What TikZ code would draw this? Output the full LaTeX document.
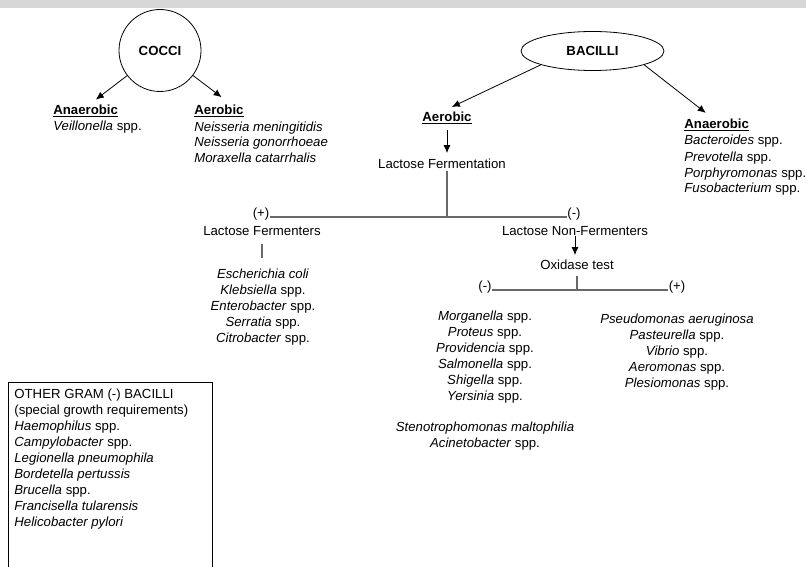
\documentclass[tikz,border=0pt]{standalone}
\usepackage{fontspec}
\setmainfont{Liberation Sans}
\usetikzlibrary{arrows.meta,shapes.geometric,positioning}
\definecolor{linegray}{RGB}{105,105,105}
\definecolor{bandgray}{RGB}{215,215,215}

\begin{document}
\begin{tikzpicture}[x=1pt, y=-1pt, >={Latex[length=8pt,width=7pt]}, line width=0.8pt,
   every node/.style={font=\fontsize{13.2}{16}\selectfont, inner sep=0pt},
   group/.style={draw, font=\fontsize{13.2}{16}\selectfont\bfseries},
   head/.style={anchor=base west},
   spp/.style={align=left},
   cspp/.style={align=center, anchor=base},
   branch/.style={draw=linegray, line width=1.3pt}]
   \useasboundingbox (0,0) rectangle (806,567);
   \fill[bandgray] (0,0) rectangle (806,8);

   % the two groups
   \node[group, circle, minimum size=82pt]                        (cocci)   at (160,50.5) {COCCI};
   \node[group, ellipse, minimum width=143pt, minimum height=39pt] (bacilli) at (592.5,51) {BACILLI};

   % cocci (a list node sits on the baseline of its last line)
   \node[head] (cana)  at (53,115)  {\underline{\textbf{Anaerobic}}};
   \node[spp, below=16pt of cana.base west, anchor=base west]  (canalist)  {\textit{Veillonella} spp.};
   \node[head] (caero) at (194,115) {\underline{\textbf{Aerobic}}};
   \node[spp, below=48pt of caero.base west, anchor=base west] (caerolist) {\textit{Neisseria meningitidis}\\
      \textit{Neisseria gonorrhoeae}\\ \textit{Moraxella catarrhalis}};

   % bacilli
   \node[anchor=base] (bacaero) at (447,122) {\underline{\textbf{Aerobic}}};
   \node[anchor=base] (lferm)   at (442,168) {Lactose Fermentation};
   \node[head]        (bana)    at (684,129) {\underline{\textbf{Anaerobic}}};
   \node[spp, below=64pt of bana.base west, anchor=base west] (banalist) {\textit{Bacteroides} spp.\\
      \textit{Prevotella} spp.\\ \textit{Porphyromonas} spp.\\ \textit{Fusobacterium} spp.};

   % lactose
   \node[anchor=base] (pls)  at (261,217) {(+)};
   \node[anchor=base] (lfer) at (262,235) {Lactose Fermenters};
   \node[anchor=base] (mns)  at (574,217) {(-)};
   \node[anchor=base] (lnf)  at (575,235) {Lactose Non-Fermenters};
   \node[cspp] (lflist) at (263,342) {\textit{Escherichia coli}\\ \textit{Klebsiella} spp.\\
      \textit{Enterobacter} spp.\\ \textit{Serratia} spp.\\ \textit{Citrobacter} spp.};

   % oxidase
   \node[anchor=base] (oxid) at (577,269) {Oxidase test};
   \node[anchor=base] (omin) at (485,290) {(-)};
   \node[anchor=base] (opls) at (677,290) {(+)};
   \node[cspp] (onlist)  at (485,400) {\textit{Morganella} spp.\\ \textit{Proteus} spp.\\
      \textit{Providencia} spp.\\ \textit{Salmonella} spp.\\ \textit{Shigella} spp.\\ \textit{Yersinia} spp.};
   \node[cspp] (onlist2) at (485,447) {\textit{Stenotrophomonas maltophilia}\\ \textit{Acinetobacter} spp.};
   \node[cspp] (oplist)  at (677,387) {\textit{Pseudomonas aeruginosa}\\ \textit{Pasteurella} spp.\\
      \textit{Vibrio} spp.\\ \textit{Aeromonas} spp.\\ \textit{Plesiomonas} spp.};

   % other gram (-) bacilli
   \draw (8,567) |- (212,382) -- (212,567);
   \node[spp, anchor=base west] (other) at (14,526) {OTHER GRAM (-) BACILLI\\
      (special growth requirements)\\ \textit{Haemophilus} spp.\\ \textit{Campylobacter} spp.\\
      \textit{Legionella pneumophila}\\ \textit{Bordetella pertussis}\\ \textit{Brucella} spp.\\
      \textit{Francisella tularensis}\\ \textit{Helicobacter pylori}};

   % connectors
   \draw[->, shorten >=9pt]  (cocci) -- ([xshift=3pt]cana.north);
   \draw[->, shorten >=13pt] (cocci) -- ([xshift=13pt]caero.north);
   \draw[->, shorten >=12pt] (bacilli.195) -- ([xshift=-6pt]bacaero.north);
   \draw[->, shorten >=10pt] (bacilli.-15) -- ([xshift=-3pt]bana.north);
   \draw[->, shorten <=5pt, shorten >=5pt] (bacaero.south) -- (bacaero.south |- lferm.north);
   \draw[branch, shorten <=2pt] (bacaero.south |- lferm.south) -- (bacaero.south |- pls.base);
   \draw[branch] (pls.base east) -- (mns.base west);
   \draw[branch, shorten <=8pt, shorten >=10pt] (lfer.south) -- (lfer.south |- lflist.north);
   \draw[->, shorten >=4pt] (lnf.south) -- (lnf.south |- oxid.north);
   \draw[branch, shorten <=6pt] (oxid.south) -- (oxid.south |- omin.base);
   \draw[branch] (omin.base east) -- (opls.base west);
\end{tikzpicture}
\end{document}
